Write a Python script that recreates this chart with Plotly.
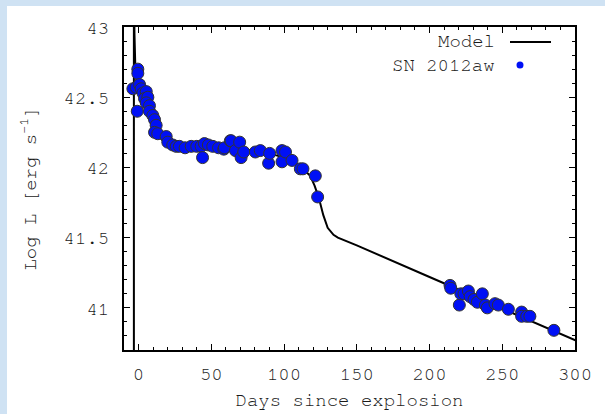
import plotly.graph_objects as go

# Observed light curve of SN 2012aw (days since explosion, log L)
obs_days = [-0.5, -0.5, -3.9, -1.6, 0.7, 1.8, -0.9, 3.0, 5.3, 4.1, 6.4, 5.3, 7.5, 7.5,
            9.8, 11.0, 12.1, 11.0, 13.2, 19.0, 20.1, 23.5, 25.9, 28.1, 32.0, 36.2,
            40.0, 43.0, 44.0, 45.3, 48.0, 51.0, 55.0, 58.6, 59.0, 63.1, 63.6, 66.6,
            69.5, 70.5, 72.3, 80.3, 83.7, 89.4, 90.1, 98.6, 98.6, 101.0, 105.5,
            111.2, 113.0, 121.5, 123.1,
            214.1, 214.6, 220.5, 221.5, 223.7, 226.7, 227.9, 230.6, 232.9, 236.3,
            238.4, 239.7, 245.0, 247.3, 254.2, 263.3, 263.3, 266.8, 269.0, 285.5]
obs_logL = [42.70, 42.67, 42.56, 42.57, 42.59, 42.56, 42.40, 42.53, 42.54, 42.49,
            42.50, 42.46, 42.44, 42.40, 42.37, 42.34, 42.30, 42.25, 42.24, 42.22,
            42.18, 42.16, 42.15, 42.15, 42.14, 42.15, 42.15, 42.15, 42.07, 42.17,
            42.16, 42.15, 42.14, 42.13, 42.14, 42.19, 42.19, 42.12, 42.18, 42.07,
            42.11, 42.11, 42.12, 42.03, 42.10, 42.12, 42.04, 42.11, 42.05, 41.99,
            41.99, 41.94, 41.79,
            41.16, 41.14, 41.02, 41.10, 41.10, 41.12, 41.08, 41.06, 41.04, 41.10,
            41.02, 41.00, 41.03, 41.02, 40.99, 40.97, 40.94, 40.94, 40.94, 40.84]

# Model light curve
model_days = [-3.2, -3.2, -2.8, -2.3, -1.5, 0, 2, 4, 7, 10, 14, 18, 25, 30, 40, 50,
              60, 70, 80, 90, 100, 108, 113, 118, 121, 124, 127, 130, 134, 137,
              150, 200, 250, 300, 310]
model_logL = [40.5, 43.3, 42.95, 42.75, 42.62, 42.55, 42.50, 42.44, 42.36, 42.29,
              42.22, 42.18, 42.15, 42.14, 42.14, 42.14, 42.14, 42.13, 42.12, 42.10,
              42.07, 42.03, 41.99, 41.94, 41.87, 41.78, 41.66, 41.57, 41.52, 41.50,
              41.445, 41.22, 40.995, 40.77, 40.725]

x_ticks = [0, 50, 100, 150, 200, 250, 300]
y_ticks = [41, 41.5, 42, 42.5, 43]
y_tick_text = ["41", "41.5", "42", "42.5", "43"]

FONT = "FreeMono, Nimbus Mono PS, Courier New, Courier, Liberation Mono, monospace"
TXT = "#1a1a1a"
FS = 19

fig = go.Figure()
fig.add_trace(go.Scatter(x=model_days, y=model_logL, mode="lines",
                         line=dict(color="black", width=2), name="Model",
                         showlegend=False))
fig.add_trace(go.Scatter(x=obs_days, y=obs_logL, mode="markers",
                         marker=dict(color="#0010f5", size=12,
                                     line=dict(color="#333333", width=1)),
                         name="SN 2012aw", showlegend=False, cliponaxis=True))

L, R, T, B = 124, 30, 27, 64
W, H = 605, 414
pw, ph = W - L - R, H - T - B

def px(x):
    return (x - L) / pw

def py(y):
    return (H - y - B) / ph

shapes = [
    # light blue frame strips
    dict(type="rect", xref="paper", yref="paper", x0=px(0), x1=px(7), y0=py(414), y1=py(0),
         fillcolor="#cfe2f3", line=dict(width=0), layer="below"),
    dict(type="rect", xref="paper", yref="paper", x0=px(0), x1=px(605), y0=py(6), y1=py(0),
         fillcolor="#cfe2f3", line=dict(width=0), layer="below"),
    # legend line key
    dict(type="line", xref="paper", yref="paper", x0=px(510), x1=px(551), y0=py(42), y1=py(42),
         line=dict(color="black", width=2)),
    # legend dot key
    dict(type="circle", xref="paper", yref="paper", x0=px(516.5), x1=px(523.5),
         y0=py(68.5), y1=py(61.5), fillcolor="#0010f5", line=dict(width=0)),
]

annotations = [
    dict(text="Model", xref="paper", yref="paper", x=px(497), y=py(42), xanchor="right",
         yanchor="middle", showarrow=False, font=dict(family=FONT, size=FS, color=TXT)),
    dict(text="SN 2012aw", xref="paper", yref="paper", x=px(497), y=py(65), xanchor="right",
         yanchor="middle", showarrow=False, font=dict(family=FONT, size=FS, color=TXT)),
]

fig.update_layout(
    width=W, height=H,
    margin=dict(l=L, r=R, t=T, b=B, autoexpand=False),
    paper_bgcolor="white", plot_bgcolor="white",
    shapes=shapes, annotations=annotations,
    font=dict(family=FONT, size=FS, color=TXT),
    xaxis=dict(range=[-10, 300], tickvals=x_ticks, ticks="inside", ticklen=6,
               tickwidth=1, tickcolor="black", showline=True, linecolor="black",
               linewidth=2, mirror="allticks", showgrid=False, zeroline=False,
               ticklabelstandoff=5, automargin=False,
               minor=dict(dtick=10, ticks="inside", ticklen=3, tickcolor="black"),
               title=dict(text="Days since explosion", standoff=10,
                          font=dict(family=FONT, size=FS, color=TXT)),
               tickfont=dict(family=FONT, size=FS, color=TXT)),
    yaxis=dict(range=[40.7, 43], tickvals=y_ticks, ticktext=y_tick_text, ticks="inside",
               ticklen=6, tickwidth=1, tickcolor="black", showline=True,
               linecolor="black", linewidth=2, mirror="allticks", showgrid=False,
               zeroline=False, ticklabelstandoff=9, automargin=False,
               minor=dict(dtick=0.1, ticks="inside", ticklen=3, tickcolor="black"),
               title=dict(text="Log L [erg s<sup>-1</sup>]", standoff=22,
                          font=dict(family=FONT, size=FS, color=TXT)),
               tickfont=dict(family=FONT, size=FS, color=TXT)),
)

fig.write_html("out.html")
